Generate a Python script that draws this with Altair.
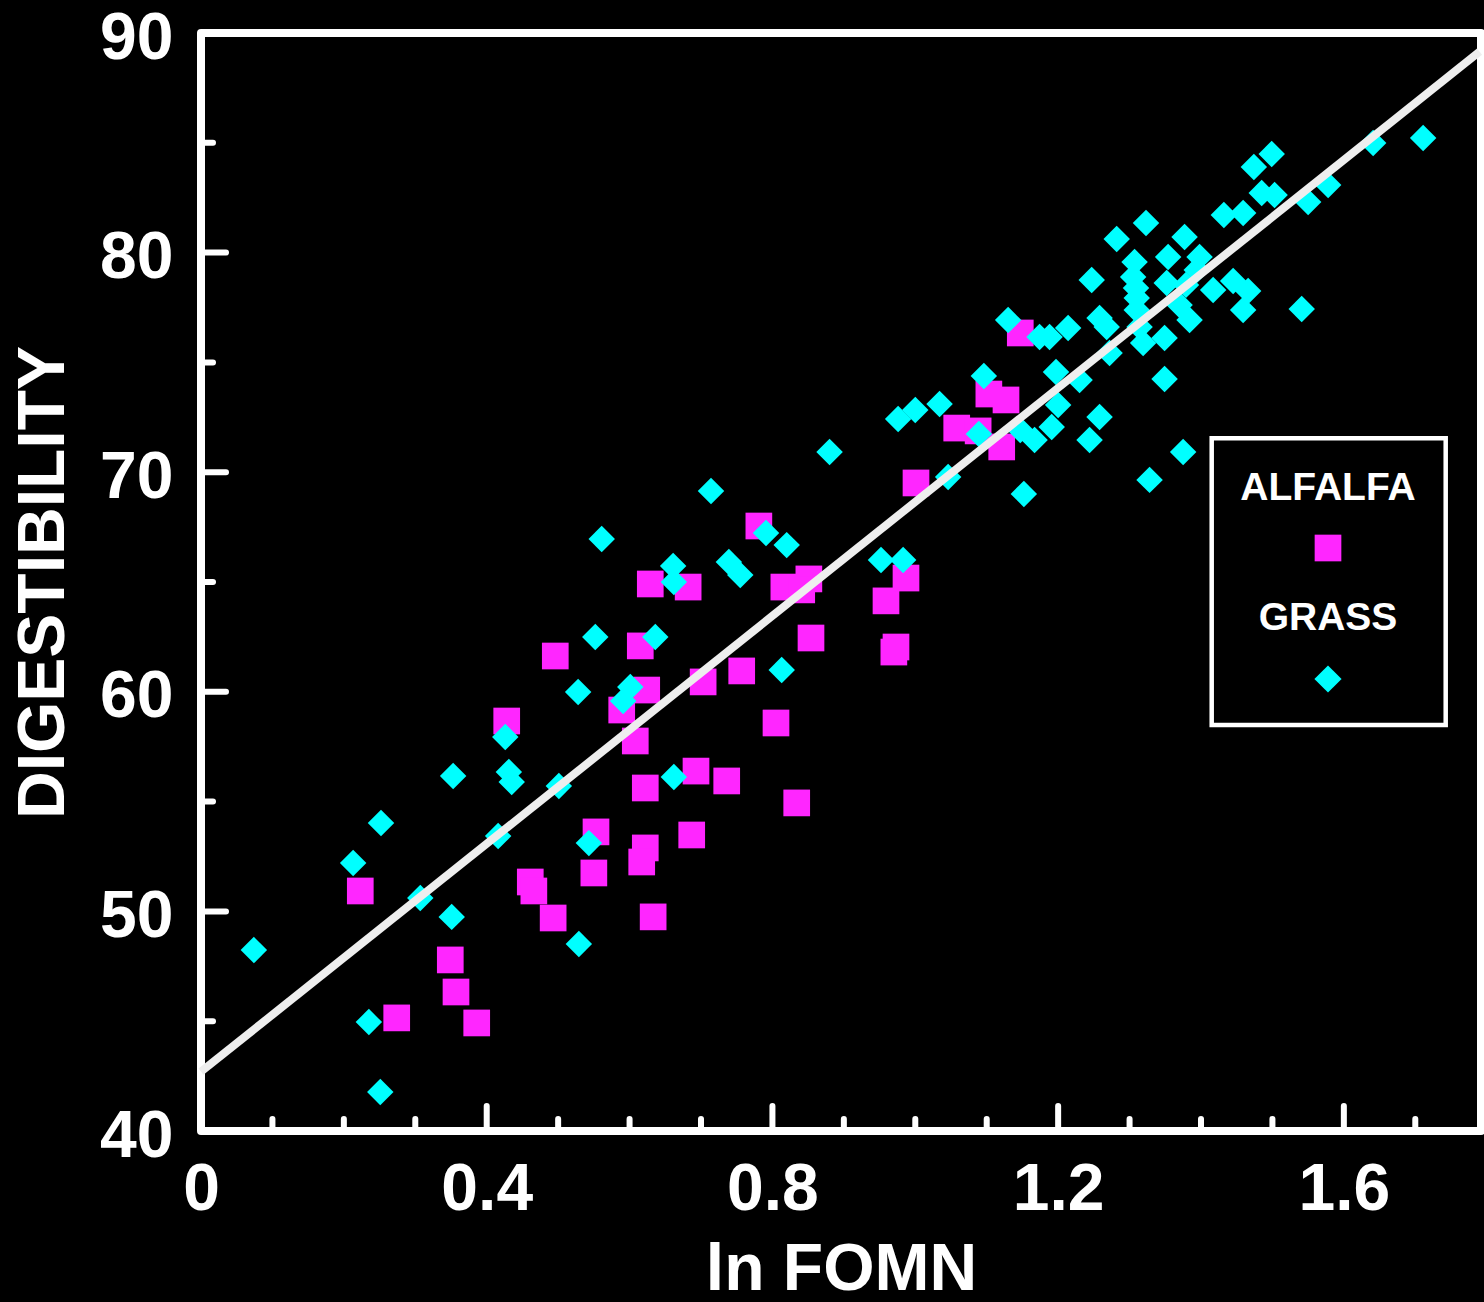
import altair as alt
import pandas as pd
import altair.utils.html as ahtml

FONT = "Liberation Sans"

# ---- data ----
alfalfa_x = [0.223, 0.274, 0.349, 0.357, 0.386, 0.428, 0.461, 0.466, 0.493, 0.496,
             0.553, 0.550, 0.589, 0.608, 0.615, 0.624, 0.622, 0.622, 0.617, 0.633,
             0.629, 0.682, 0.703, 0.693, 0.687, 0.736, 0.757, 0.781, 0.805, 0.816,
             0.851, 0.841, 0.854, 0.834, 0.959, 0.973, 0.970, 0.987, 1.001, 1.058,
             1.088, 1.103, 1.127, 1.121, 1.147]
alfalfa_y = [50.93, 45.15, 47.79, 46.33, 44.92, 58.67, 51.34, 50.93, 49.70, 61.63,
             53.62, 51.75, 59.17, 57.76, 62.09, 60.08, 55.62, 52.89, 52.25, 49.75,
             64.91, 64.77, 60.45, 56.39, 53.48, 55.94, 60.95, 67.55, 58.58, 64.77,
             65.14, 64.64, 62.45, 54.94, 64.14, 62.04, 61.81, 65.18, 69.51, 72.01,
             71.88, 73.56, 73.29, 71.15, 76.34]

grass_x = [0.074, 0.213, 0.235, 0.252, 0.251, 0.307, 0.351, 0.353, 0.416, 0.426,
           0.431, 0.435, 0.501, 0.529, 0.528, 0.543, 0.552, 0.561, 0.591, 0.601,
           0.636, 0.661, 0.662, 0.662, 0.714, 0.739, 0.755, 0.791, 0.813, 0.820,
           0.880, 0.952, 0.983, 0.976, 1.000, 1.034, 1.046, 1.089, 1.096, 1.130,
           1.147, 1.152, 1.167, 1.191, 1.200, 1.174, 1.188, 1.214, 1.197, 1.230,
           1.244, 1.258, 1.247, 1.258, 1.268, 1.272, 1.282, 1.323, 1.307, 1.305,
           1.309, 1.310, 1.310, 1.314, 1.319, 1.349, 1.349, 1.328, 1.375, 1.354,
           1.352, 1.377, 1.398, 1.394, 1.370, 1.384, 1.417, 1.445, 1.466, 1.459,
           1.432, 1.459, 1.474, 1.499, 1.485, 1.503, 1.550, 1.578, 1.541, 1.641,
           1.711, 1.379]
grass_y = [48.24, 52.20, 44.96, 54.03, 41.78, 50.61, 49.75, 56.17, 53.43, 57.94,
           56.35, 55.89, 55.71, 48.52, 59.99, 53.11, 62.50, 66.96, 59.58, 60.22,
           62.50, 65.73, 65.00, 56.12, 69.14, 65.91, 65.32, 67.23, 60.99, 66.68,
           70.92, 66.00, 66.00, 72.42, 72.83, 73.11, 69.78, 71.74, 74.38, 76.93,
           71.92, 69.01, 71.47, 72.06, 73.06, 76.16, 76.16, 76.57, 74.56, 74.20,
           71.47, 72.51, 78.75, 77.02, 76.61, 75.43, 80.62, 81.35, 79.57, 78.89,
           78.39, 77.93, 77.39, 76.61, 75.88, 76.11, 74.24, 69.65, 70.92, 79.80,
           78.62, 80.71, 79.80, 79.21, 77.61, 76.93, 78.30, 78.71, 78.25, 77.39,
           81.71, 81.80, 83.90, 84.49, 82.71, 82.62, 82.30, 83.08, 77.43, 84.99,
           85.22, 78.53]

fit_x = [0.0, 1.79]
fit_y = [42.70, 89.15]

x_labels = [0, 0.4, 0.8, 1.2, 1.6]
x_minor = [0.1, 0.2, 0.3, 0.5, 0.6, 0.7, 0.9, 1.0, 1.1, 1.3, 1.4, 1.5, 1.7]
x_major = [0.4, 0.8, 1.2, 1.6]
y_labels = [40, 50, 60, 70, 80, 90]
y_minor = [45, 55, 65, 75, 85]
y_major = [50, 60, 70, 80]

series_names = ["ALFALFA", "GRASS"]
MAGENTA = "#ff26ff"
CYAN = "#00ffff"

W, H = 1280, 1098

xscale = alt.Scale(domain=[0, 1.792], nice=False, zero=False)
yscale = alt.Scale(domain=[40, 90], nice=False, zero=False)

common_axis = dict(grid=False, domain=False, ticks=False, tickSize=0,
                   labelOverlap=False, labelFontSize=66, labelFontWeight="bold",
                   labelColor="white", labelFont=FONT, titleFontSize=66,
                   titleFontWeight="bold", titleColor="white", titleFont=FONT)
xaxis = alt.Axis(values=x_labels, format="~g", title="ln FOMN", labelPadding=26,
                 labelFlush=False, titlePadding=15, **common_axis)
yaxis = alt.Axis(values=y_labels, format="d", title="DIGESTIBILITY", labelPadding=28,
                 labelFlush=False, labelOffset=5, titlePadding=22, **common_axis)

alf_df = pd.DataFrame({"x": alfalfa_x, "y": alfalfa_y})
gr_df = pd.DataFrame({"x": grass_x, "y": grass_y})
fit_df = pd.DataFrame({"x": fit_x, "y": fit_y})

X = alt.X("x:Q", scale=xscale, axis=xaxis)
Y = alt.Y("y:Q", scale=yscale, axis=yaxis)

alf = alt.Chart(alf_df).mark_point(shape="square", filled=True, size=712, opacity=1,
                                   color=MAGENTA).encode(x=X, y=Y)
gr = alt.Chart(gr_df).mark_point(shape="diamond", filled=True, size=700, opacity=1,
                                 color=CYAN).encode(x=X, y=Y)
fit = alt.Chart(fit_df).mark_line(color="#eeeeee", strokeWidth=8).encode(x=X, y=Y)


def xticks(vals, length):
    return alt.Chart(pd.DataFrame({"x": vals})).mark_rule(
        color="white", strokeWidth=6, strokeCap="round").encode(
        x=X, y=alt.value(H), y2=alt.value(H - length))


def yticks(vals, length):
    return alt.Chart(pd.DataFrame({"y": vals})).mark_rule(
        color="white", strokeWidth=6, strokeCap="round").encode(
        y=Y, x=alt.value(0), x2=alt.value(length))


one = pd.DataFrame({"k": [0]})
leg_box = alt.Chart(one).mark_rect(fill="black", stroke="white", strokeWidth=4.5).encode(
    x=alt.value(1010.7), x2=alt.value(1244.7), y=alt.value(405.3), y2=alt.value(692))
leg_t1 = alt.Chart(one).mark_text(text=series_names[0], font=FONT, fontSize=39,
                                  fontWeight="bold", color="white", align="center",
                                  baseline="alphabetic").encode(
    x=alt.value(1127), y=alt.value(467))
leg_t2 = alt.Chart(one).mark_text(text=series_names[1], font=FONT, fontSize=39,
                                  fontWeight="bold", color="white", align="center",
                                  baseline="alphabetic").encode(
    x=alt.value(1127), y=alt.value(597))
leg_s1 = alt.Chart(one).mark_point(shape="square", filled=True, size=712, opacity=1,
                                   color=MAGENTA).encode(x=alt.value(1127), y=alt.value(515))
leg_s2 = alt.Chart(one).mark_point(shape="diamond", filled=True, size=740, opacity=1,
                                   color=CYAN).encode(x=alt.value(1127), y=alt.value(646))

chart = alt.layer(
    alf, gr, fit,
    xticks(x_minor, 12), xticks(x_major, 25),
    yticks(y_minor, 12), yticks(y_major, 25),
    leg_box, leg_t1, leg_t2, leg_s1, leg_s2,
).properties(
    width=W, height=H,
    autosize=alt.AutoSizeParams(type="none"),
    padding={"left": 201, "top": 33, "right": 3, "bottom": 171},
).configure(
    background="black", font=FONT
).configure_view(
    stroke="white", strokeWidth=8, strokeJoin="round", fill="black"
)


class _BlackPage:
    def __init__(self, base):
        self.base = base

    def render(self, *a, **k):
        out = self.base.render(*a, **k)
        return out.replace(
            "<body>", '<body style="margin:0;background:#000000;overflow:hidden">', 1)


try:
    chart.save("out.html", embed_options={"renderer": "svg", "actions": False},
               template=_BlackPage(ahtml.TEMPLATES["standard"]))
except Exception:
    chart.save("out.html", embed_options={"renderer": "svg", "actions": False})
